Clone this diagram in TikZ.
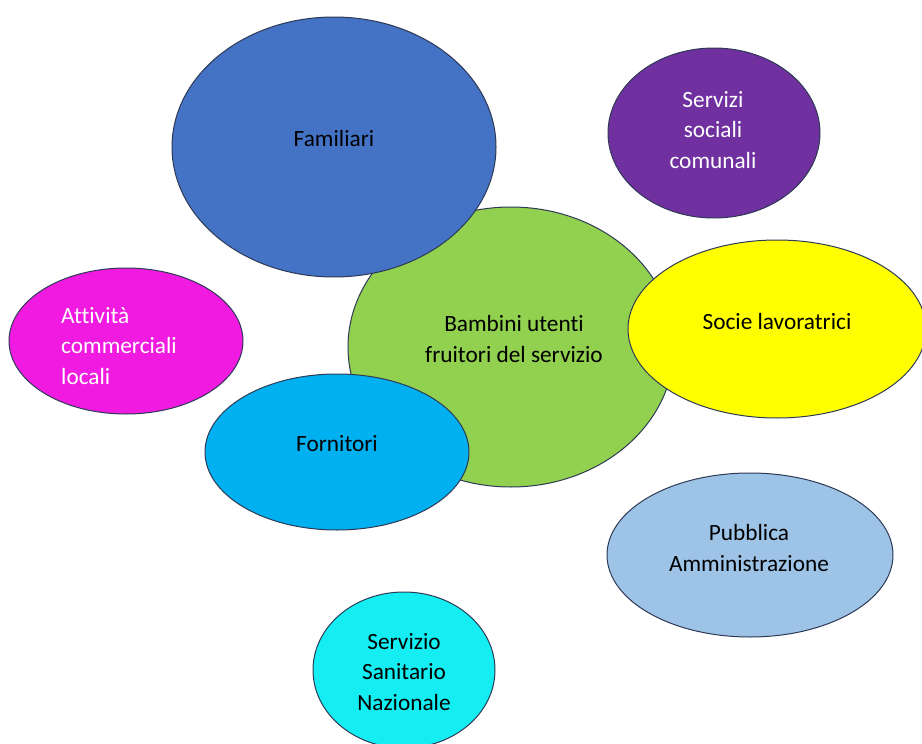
\documentclass[tikz,border=0pt]{standalone}
\usepackage{fontspec}
\setmainfont{Carlito}[Ligatures=NoCommon, RawFeature={-liga;-clig;-dlig}]
\usetikzlibrary{shapes.geometric}
\definecolor{cfam}{HTML}{4472C4}
\definecolor{cserv}{HTML}{7030A0}
\definecolor{cbamb}{HTML}{92D050}
\definecolor{csoc}{HTML}{FFFF00}
\definecolor{catt}{HTML}{F01AE0}
\definecolor{cforn}{HTML}{00B0F0}
\definecolor{cpubb}{HTML}{9DC3E6}
\definecolor{cssn}{HTML}{14EEF2}
\definecolor{cline}{HTML}{2E3A55}
\tikzset{
  blob/.style={ellipse, draw=cline, line width=1pt, inner sep=0pt},
  lab/.style={font=\fontsize{23.3}{30.5}\selectfont, align=center, inner sep=0pt, text=black},
}
\begin{document}
\begin{tikzpicture}[x=1pt,y=-1pt]
\useasboundingbox (0,0) rectangle (922,744);
\begin{scope}
\clip (0,0) rectangle (922,744);
\node[blob, fill=cbamb, minimum width=326pt, minimum height=280pt] (bamb) at (511,347) {};
\node[blob, fill=cfam, minimum width=324pt, minimum height=260pt] (fam) at (334,147) {};
\node[blob, fill=cserv, minimum width=212pt, minimum height=170pt] (serv) at (714,133) {};
\node[blob, fill=csoc, minimum width=298pt, minimum height=178pt] (soc) at (777,329) {};
\node[blob, fill=catt, minimum width=234pt, minimum height=146pt] (att) at (126,341) {};
\node[blob, fill=cforn, minimum width=264pt, minimum height=156pt] (forn) at (337,452) {};
\node[blob, fill=cpubb, minimum width=286pt, minimum height=164pt] (pubb) at (750,555) {};
\node[blob, fill=cssn, minimum width=182pt, minimum height=156pt] (ssn) at (404,670) {};
\end{scope}
\node[lab] (tfam) at (334,138) {Familiari};
\node[lab, text=white] (tserv) at (713,130) {Servizi\\sociali\\comunali};
\node[lab] (tbamb) at (514,339) {Bambini utenti\\fruitori del servizio};
\node[lab] (tsoc) at (777,321) {Socie lavoratrici};
\node[lab, text=white, align=left, anchor=west] (tatt) at (61,346) {Attività\\commerciali\\locali};
\node[lab] (tforn) at (337,444) {Fornitori};
\node[lab] (tpubb) at (749,548) {Pubblica\\Amministrazione};
\node[lab] (tssn) at (404,672) {Servizio\\Sanitario\\Nazionale};
\end{tikzpicture}
\end{document}
